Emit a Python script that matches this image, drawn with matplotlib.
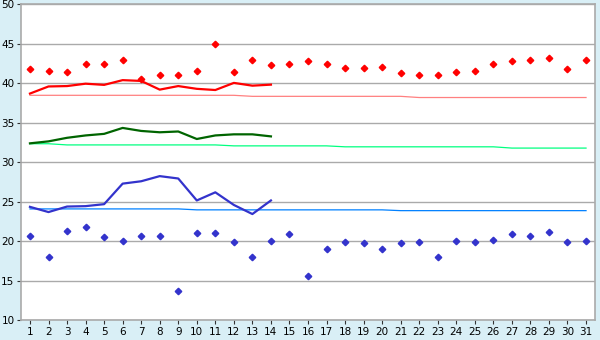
import matplotlib
matplotlib.use("Agg")
import matplotlib.pyplot as plt

days = list(range(1, 32))
day_labels = [str(d) for d in days]

red_points = [41.8, 41.5, 41.4, 42.4, 42.4, 42.9, 40.5, 41.0, 41.1, 41.5,
              45.0, 41.4, 42.9, 42.3, 42.4, 42.8, 42.5, 41.9, 41.9, 42.0,
              41.3, 41.0, 41.1, 41.4, 41.5, 42.5, 42.8, 42.9, 43.2, 41.8, 43.0]
red_line = [38.7, 39.6, 39.65, 39.95, 39.8, 40.4, 40.3, 39.2, 39.65, 39.3,
            39.15, 40.05, 39.7, 39.83]
pink_trend = [38.48]*12 + [38.35]*9 + [38.2]*10

green_line = [32.4, 32.65, 33.1, 33.4, 33.6, 34.35, 33.97, 33.8, 33.9, 32.95,
              33.4, 33.54, 33.54, 33.28]
lightgreen_trend = [32.35]*2 + [32.2]*9 + [32.08]*6 + [31.96]*9 + [31.8]*5

blue_line = [24.36, 23.7, 24.4, 24.45, 24.7, 27.3, 27.6, 28.25, 27.95, 25.17,
             26.2, 24.6, 23.45, 25.17]
lightblue_trend = [24.1]*9 + [23.98]*11 + [23.88]*11
blue_points = [20.64, 17.95, 21.28, 21.8, 20.5, 20.0, 20.64, 20.64, 13.7, 21.0,
               21.0, 19.87, 17.95, 20.0, 20.9, 15.64, 18.97, 19.87, 19.74, 18.97,
               19.74, 19.87, 17.95, 20.0, 19.87, 20.13, 20.9, 20.64, 21.15, 19.87, 20.0]

y_ticks = [10, 15, 20, 25, 30, 35, 40, 45, 50]

bg = "#D9EFF6"
grid_c = "#AAAAAA"

fig = plt.figure(figsize=(6, 3.4), dpi=100, facecolor=bg)
ax = fig.add_axes([20.7/600, 19.7/340, 574.6/600, 316/340])
ax.set_facecolor("white")

ax.plot(days, pink_trend, color="#FF8080", lw=0.9, zorder=3)
ax.plot(days, lightgreen_trend, color="#00FF80", lw=0.9, zorder=3)
ax.plot(days, lightblue_trend, color="#0080FF", lw=0.9, zorder=3)

ax.plot(days[:len(red_line)], red_line, color="#FF0000", lw=1.6, zorder=4)
ax.plot(days[:len(green_line)], green_line, color="#006400", lw=1.6, zorder=4)
ax.plot(days[:len(blue_line)], blue_line, color="#3333CC", lw=1.6, zorder=4)

ax.plot(days, red_points, ls="none", marker="D", ms=3.3, color="#FF0000",
        mec="#FF0000", zorder=5)
ax.plot(days, blue_points, ls="none", marker="D", ms=3.3, color="#3333CC",
        mec="#3333CC", zorder=5)

ax.set_xlim(0.5, 31.5)
ax.set_ylim(10, 50)
ax.set_xticks(days)
ax.set_xticklabels(day_labels)
ax.set_yticks(y_ticks)
ax.set_yticklabels([str(v) for v in y_ticks])
ax.yaxis.grid(True, color=grid_c, lw=1.0)
ax.set_axisbelow(True)
for s in ax.spines.values():
    s.set_color(grid_c)
    s.set_linewidth(1.2)
ax.tick_params(axis="both", colors="#333333", labelcolor="black", labelsize=7.5,
               length=3, width=0.8, direction="out")
ax.tick_params(axis="y", pad=1.5)
ax.tick_params(axis="x", pad=2)

fig.savefig("out.png", dpi=100, facecolor=bg)
